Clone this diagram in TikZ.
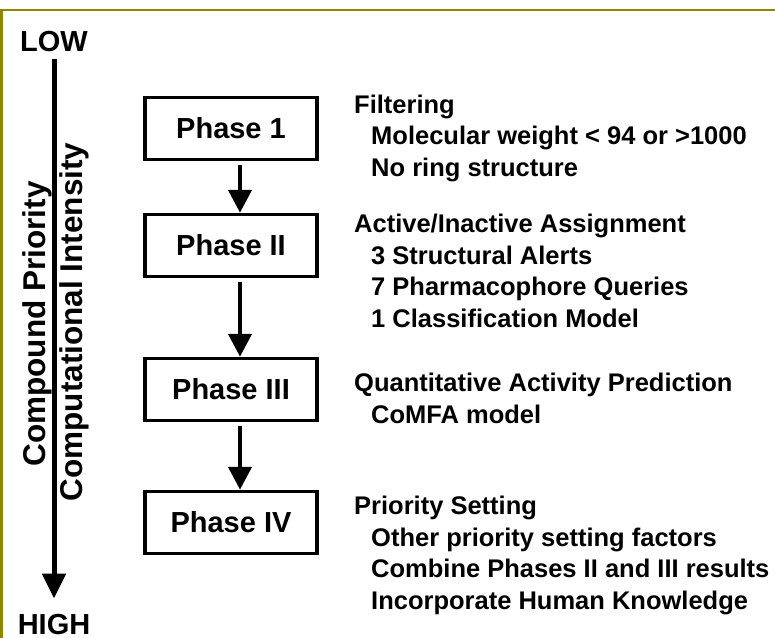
\documentclass[tikz,border=0pt]{standalone}
\usepackage{fontspec}
\setmainfont{Liberation Sans}
\usetikzlibrary{arrows.meta}
\usetikzlibrary{positioning}
\colorlet{colorFrame}{olive}
\tikzset{
   every path/.style={>=stealth},
   frame/.style={color=colorFrame,line width=2.5pt},
   phase/.style={draw,line width=3.5pt,minimum width=172pt,minimum height=62pt,inner sep=0pt,font=\bfseries\fontsize{29}{34}\selectfont},
   flow/.style={-{Triangle[width=23pt,length=23pt]},line width=4.5pt},
   axis/.style={-{Triangle[width=23pt,length=25pt]},line width=5pt},
   desc/.style={anchor=base west,align=left,inner sep=0pt,font=\bfseries\fontsize{25.5}{31.5}\selectfont},
   side/.style={rotate=90,anchor=base,inner sep=0pt,font=\bfseries\fontsize{#1}{36}\selectfont},
   ends/.style={anchor=base,inner sep=0pt,font=\bfseries\fontsize{29}{34}\selectfont},
}
\newcommand{\ind}{\hspace*{17pt}}

\begin{document}
\begin{tikzpicture}[x=1pt,y=-1pt]

        \useasboundingbox (0,0) rectangle (775,637);
        \draw[frame] (776,10) -- (1.3,10) -- (1.3,638);

        \node[ends] (low)  at (54, 51)  {LOW};
        \node[ends] (high) at (54, 634) {HIGH};

        \node[side=31.5] (prio) at (45, 324) {Compound Priority};
        \node[side=31.5] (comp) at (82, 322) {Computational Intensity};

        \node[phase] (ph1) at (231, 128.5) {Phase 1};
        \node[phase] (ph2) at (231, 245.5) {Phase II};
        \node[phase] (ph3) at (231, 389.5) {Phase III};
        \node[phase] (ph4) at (231, 522.5) {Phase IV};

        % anchored at the baseline of the last line
        \node[desc] (d1) at (354, 176) {Filtering\\\ind Molecular weight < 94 or >1000\\\ind No ring structure};
        \node[desc] (d2) at (354, 327) {Active/Inactive Assignment\\\ind 3 Structural Alerts\\\ind 7 Pharmacophore Queries\\\ind 1 Classification Model};
        \node[desc] (d3) at (354, 423) {Quantitative Activity Prediction\\\ind CoMFA model};
        \node[desc] (d4) at (354, 609) {Priority Setting\\\ind Other priority setting factors\\\ind Combine Phases II and III results\\\ind Incorporate Human Knowledge};

        \draw[axis,shorten <=8pt,shorten >=15pt] (low) -- (high);

        \draw[flow] ([xshift=9pt,yshift=-4pt]ph1.south) -- ([xshift=9pt]ph2.north);
        \draw[flow] ([xshift=9pt,yshift=-4pt]ph2.south) -- ([xshift=9pt]ph3.north);
        \draw[flow] ([xshift=9pt,yshift=-4pt]ph3.south) -- ([xshift=9pt]ph4.north);

      \end{tikzpicture}
\end{document}
